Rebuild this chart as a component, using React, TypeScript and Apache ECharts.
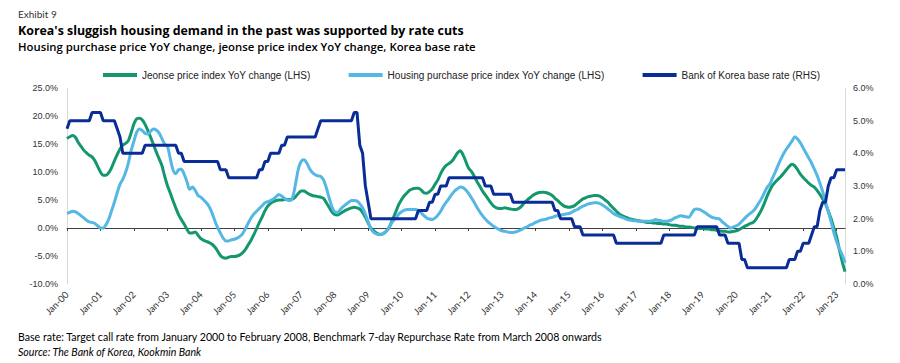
import { useEffect, useRef } from "react";
import * as echarts from "echarts";

// Jeonse price index YoY change (%), monthly Jan-2000 .. Apr-2023 (LHS)
const jeonseYoY: number[] = [
  16.0, 16.3, 16.5, 16.2, 15.3, 14.6, 13.9, 13.4, 13.0, 12.7, 12.0, 11.0, // 2000
  10.0, 9.4, 9.4, 9.9, 10.8, 12.0, 13.1, 14.1, 14.8, 15.1, 15.6, 17.0, // 2001
  18.6, 19.5, 19.6, 19.3, 18.5, 17.4, 16.2, 14.9, 13.6, 12.4, 11.2, 9.3, // 2002
  7.6, 6.3, 4.9, 3.6, 2.4, 1.5, 0.7, -0.2, -0.9, -0.9, -0.7, -1.3, // 2003
  -1.9, -2.2, -2.4, -2.6, -2.9, -3.4, -4.1, -4.9, -5.3, -5.4, -5.2, -5.1, // 2004
  -5.1, -5.0, -4.8, -4.4, -3.8, -3.0, -2.2, -1.2, -0.1, 1.0, 2.0, 3.1, // 2005
  3.9, 4.4, 4.7, 4.9, 5.0, 5.0, 5.1, 5.1, 5.1, 5.2, 5.6, 6.2, // 2006
  6.6, 6.6, 6.3, 6.0, 5.8, 5.7, 5.6, 5.5, 5.3, 4.5, 3.7, 2.9, // 2007
  2.4, 2.3, 2.6, 2.9, 3.2, 3.4, 3.6, 3.7, 3.6, 3.4, 2.8, 1.9, // 2008
  0.9, 0.0, -0.5, -0.9, -1.1, -1.1, -0.8, -0.3, 0.6, 1.8, 3.0, 4.2, // 2009
  5.1, 5.8, 6.3, 6.8, 7.0, 7.1, 7.1, 6.8, 6.3, 6.2, 6.5, 7.0, // 2010
  7.8, 8.6, 9.7, 10.6, 11.2, 11.5, 11.9, 12.6, 13.4, 13.8, 13.1, 11.9, // 2011
  10.7, 10.1, 9.3, 8.3, 7.5, 6.6, 5.9, 5.2, 4.5, 3.9, 3.6, 3.5, // 2012
  3.5, 3.6, 3.5, 3.4, 3.3, 3.3, 3.5, 3.9, 4.5, 5.0, 5.4, 5.8, // 2013
  6.1, 6.3, 6.4, 6.4, 6.3, 6.1, 5.8, 5.3, 4.9, 4.4, 4.0, 3.8, // 2014
  3.7, 3.8, 4.0, 4.4, 4.8, 5.2, 5.4, 5.6, 5.7, 5.8, 5.8, 5.7, // 2015
  5.4, 5.0, 4.6, 4.0, 3.5, 3.0, 2.5, 2.2, 2.0, 1.8, 1.6, 1.5, // 2016
  1.4, 1.3, 1.2, 1.1, 1.0, 1.0, 0.9, 0.9, 0.8, 0.8, 0.7, 0.7, // 2017
  0.6, 0.5, 0.5, 0.4, 0.3, 0.3, 0.2, 0.2, 0.1, 0.0, 0.0, -0.1, // 2018
  -0.1, -0.2, -0.2, -0.3, -0.3, -0.4, -0.5, -0.6, -0.6, -0.7, -0.7, -0.6, // 2019
  -0.5, -0.3, 0.0, 0.3, 0.5, 0.8, 1.0, 1.5, 2.3, 3.2, 4.3, 5.6, // 2020
  6.7, 7.6, 8.2, 8.7, 9.2, 9.8, 10.4, 11.0, 11.4, 11.1, 10.4, 9.6, // 2021
  9.0, 8.5, 8.0, 7.6, 7.3, 6.7, 6.0, 5.2, 4.3, 3.0, 1.7, 0.0, // 2022
  -1.6, -3.9, -6.0, -7.8, // 2023
];

// Housing purchase price index YoY change (%), monthly (LHS)
const housingYoY: number[] = [
  2.6, 2.8, 3.0, 2.9, 2.6, 2.2, 1.8, 1.4, 1.1, 1.0, 0.8, 0.4, // 2000
  0.0, 0.0, 0.6, 1.6, 3.1, 4.6, 6.3, 7.8, 8.7, 9.9, 11.6, 13.8, // 2001
  15.5, 17.1, 17.7, 17.4, 16.9, 16.8, 17.3, 17.7, 17.5, 17.0, 16.0, 15.0, // 2002
  14.6, 12.5, 10.4, 9.7, 10.4, 10.5, 9.6, 8.3, 6.9, 7.3, 6.7, 5.8, // 2003
  5.5, 5.0, 4.5, 3.8, 2.7, 1.3, 0.1, -0.9, -1.8, -2.3, -2.3, -2.1, // 2004
  -2.0, -1.8, -1.5, -1.0, -0.1, 0.9, 1.8, 2.5, 3.0, 3.5, 4.0, 4.5, // 2005
  4.7, 4.9, 5.2, 5.6, 6.0, 5.7, 5.3, 5.0, 4.9, 5.6, 8.0, 10.6, // 2006
  11.9, 12.2, 11.6, 10.6, 9.9, 9.5, 9.3, 9.2, 8.6, 7.2, 5.4, 3.8, // 2007
  2.9, 2.8, 3.3, 3.8, 4.2, 4.6, 4.9, 4.9, 4.8, 4.3, 3.6, 2.5, // 2008
  1.1, -0.2, -0.8, -1.1, -1.2, -1.1, -0.8, -0.3, 0.5, 1.3, 1.8, 2.5, // 2009
  2.9, 3.2, 3.3, 3.3, 3.3, 3.3, 3.1, 2.7, 2.2, 1.8, 1.6, 1.5, // 2010
  1.8, 2.3, 3.0, 3.9, 4.6, 5.3, 6.0, 6.6, 7.0, 7.3, 7.2, 6.8, // 2011
  6.2, 5.4, 4.6, 3.7, 2.9, 2.2, 1.6, 1.1, 0.7, 0.3, 0.0, -0.3, // 2012
  -0.5, -0.6, -0.7, -0.8, -0.8, -0.7, -0.5, -0.3, 0.0, 0.2, 0.5, 0.7, // 2013
  1.0, 1.2, 1.4, 1.5, 1.6, 1.8, 1.9, 2.1, 2.2, 2.3, 2.4, 2.5, // 2014
  2.6, 2.8, 3.1, 3.3, 3.6, 3.9, 4.1, 4.3, 4.4, 4.5, 4.5, 4.4, // 2015
  4.1, 3.8, 3.4, 3.0, 2.6, 2.3, 2.1, 1.9, 1.7, 1.5, 1.4, 1.3, // 2016
  1.3, 1.2, 1.2, 1.2, 1.2, 1.2, 1.3, 1.5, 1.4, 1.3, 1.2, 1.2, // 2017
  1.3, 1.5, 1.8, 2.0, 2.2, 2.1, 2.0, 1.9, 2.6, 3.3, 3.4, 3.3, // 2018
  3.0, 2.7, 2.3, 2.0, 1.8, 1.7, 1.6, 1.1, 0.7, 0.3, 0.0, 0.2, // 2019
  0.4, 0.7, 1.2, 1.7, 2.2, 2.6, 3.0, 3.6, 4.4, 5.2, 6.2, 7.2, // 2020
  7.8, 8.9, 10.0, 11.2, 12.3, 13.3, 14.1, 14.8, 15.5, 16.3, 15.9, 15.2, // 2021
  14.3, 13.4, 12.5, 11.6, 10.5, 9.4, 8.0, 6.5, 4.7, 3.0, 1.1, -0.8, // 2022
  -2.4, -3.7, -4.8, -6.2, // 2023
];

// Bank of Korea base rate (%), monthly (RHS)
const baseRate: number[] = [
  4.75, 5.0, 5.0, 5.0, 5.0, 5.0, 5.0, 5.0, 5.0, 5.25, 5.25, 5.25, // 2000
  5.25, 5.0, 5.0, 5.0, 5.0, 5.0, 4.75, 4.5, 4.0, 4.0, 4.0, 4.0, // 2001
  4.0, 4.0, 4.0, 4.0, 4.25, 4.25, 4.25, 4.25, 4.25, 4.25, 4.25, 4.25, // 2002
  4.25, 4.25, 4.25, 4.25, 4.0, 4.0, 3.75, 3.75, 3.75, 3.75, 3.75, 3.75, // 2003
  3.75, 3.75, 3.75, 3.75, 3.75, 3.75, 3.75, 3.5, 3.5, 3.5, 3.25, 3.25, // 2004
  3.25, 3.25, 3.25, 3.25, 3.25, 3.25, 3.25, 3.25, 3.25, 3.5, 3.5, 3.75, // 2005
  3.75, 4.0, 4.0, 4.0, 4.0, 4.25, 4.25, 4.5, 4.5, 4.5, 4.5, 4.5, // 2006
  4.5, 4.5, 4.5, 4.5, 4.5, 4.5, 4.75, 5.0, 5.0, 5.0, 5.0, 5.0, // 2007
  5.0, 5.0, 5.0, 5.0, 5.0, 5.0, 5.0, 5.25, 5.25, 4.25, 4.0, 3.0, // 2008
  2.5, 2.0, 2.0, 2.0, 2.0, 2.0, 2.0, 2.0, 2.0, 2.0, 2.0, 2.0, // 2009
  2.0, 2.0, 2.0, 2.0, 2.0, 2.0, 2.25, 2.25, 2.25, 2.25, 2.5, 2.5, // 2010
  2.75, 2.75, 3.0, 3.0, 3.0, 3.25, 3.25, 3.25, 3.25, 3.25, 3.25, 3.25, // 2011
  3.25, 3.25, 3.25, 3.25, 3.25, 3.25, 3.0, 3.0, 3.0, 2.75, 2.75, 2.75, // 2012
  2.75, 2.75, 2.75, 2.75, 2.5, 2.5, 2.5, 2.5, 2.5, 2.5, 2.5, 2.5, // 2013
  2.5, 2.5, 2.5, 2.5, 2.5, 2.5, 2.5, 2.25, 2.25, 2.0, 2.0, 2.0, // 2014
  2.0, 2.0, 1.75, 1.75, 1.75, 1.5, 1.5, 1.5, 1.5, 1.5, 1.5, 1.5, // 2015
  1.5, 1.5, 1.5, 1.5, 1.5, 1.25, 1.25, 1.25, 1.25, 1.25, 1.25, 1.25, // 2016
  1.25, 1.25, 1.25, 1.25, 1.25, 1.25, 1.25, 1.25, 1.25, 1.25, 1.5, 1.5, // 2017
  1.5, 1.5, 1.5, 1.5, 1.5, 1.5, 1.5, 1.5, 1.5, 1.5, 1.75, 1.75, // 2018
  1.75, 1.75, 1.75, 1.75, 1.75, 1.75, 1.5, 1.5, 1.5, 1.25, 1.25, 1.25, // 2019
  1.25, 1.25, 0.75, 0.75, 0.5, 0.5, 0.5, 0.5, 0.5, 0.5, 0.5, 0.5, // 2020
  0.5, 0.5, 0.5, 0.5, 0.5, 0.5, 0.5, 0.75, 0.75, 0.75, 1.0, 1.0, // 2021
  1.25, 1.25, 1.25, 1.5, 1.75, 1.75, 2.25, 2.5, 2.5, 3.0, 3.25, 3.25, // 2022
  3.5, 3.5, 3.5, 3.5, // 2023
];

const monthNames = ["Jan", "Feb", "Mar", "Apr", "May", "Jun", "Jul", "Aug", "Sep", "Oct", "Nov", "Dec"];
const startYear = 2000;
const categories: string[] = jeonseYoY.map(
  (_, i) => `${monthNames[i % 12]}-${String((startYear + Math.floor(i / 12)) % 100).padStart(2, "0")}`
);

const seriesNames = [
  "Jeonse price index YoY change (LHS)",
  "Housing purchase price index YoY change (LHS)",
  "Bank of Korea base rate (RHS)",
];
const seriesColors = ["#14976f", "#55b7e4", "#0a2c97"];

const exhibitText = "Exhibit 9";
const titleText = "Korea's sluggish housing demand in the past was supported by rate cuts";
const subtitleText = "Housing purchase price YoY change, jeonse price index YoY change, Korea base rate";
const noteText =
  "Base rate: Target call rate from January 2000 to February 2008, Benchmark 7-day Repurchase Rate from March 2008 onwards";
const sourceText = "Source: The Bank of Korea, Kookmin Bank";

const HUMANIST = "Lato, 'Open Sans', sans-serif";
const OPEN = "'Open Sans', Lato, sans-serif";
const ARIAL = "'Liberation Sans', Arial, sans-serif";

export default function App() {
  const ref = useRef<HTMLDivElement>(null);

  useEffect(() => {
    if (!ref.current) return;
    const chart = echarts.init(ref.current, undefined, { renderer: "svg" });
    const pct = (v: number) => `${v.toFixed(1)}%`;
    chart.setOption({
      animation: false,
      backgroundColor: "#ffffff",
      graphic: [
        {
          type: "text",
          left: 18,
          top: 9,
          style: { text: exhibitText, fontFamily: HUMANIST, fontSize: 10, fill: "#333" },
        },
        {
          type: "text",
          left: 18,
          top: 24,
          style: { text: titleText, fontFamily: OPEN, fontSize: 12.4, fontWeight: "bold", fill: "#000" },
        },
        {
          type: "text",
          left: 18,
          top: 41,
          style: { text: subtitleText, fontFamily: OPEN, fontSize: 11.35, fontWeight: 600, fill: "#000" },
        },
        {
          type: "text",
          left: 18,
          top: 331,
          style: { text: noteText, fontFamily: HUMANIST, fontSize: 10.6, fill: "#000" },
        },
        {
          type: "text",
          left: 18,
          top: 346,
          style: { text: sourceText, fontFamily: HUMANIST, fontSize: 10.6, fontStyle: "italic", fill: "#000" },
        },
      ],
      legend: {
        left: 98,
        top: 65,
        itemWidth: 34,
        itemHeight: 4,
        itemGap: 38,
        icon: "rect",
        data: seriesNames,
        textStyle: { fontFamily: ARIAL, fontSize: 10, color: "#222" },
      },
      grid: { left: 67, right: 55, top: 88, bottom: 79, containLabel: false },
      xAxis: [
        {
          type: "category",
          data: categories,
          boundaryGap: false,
          position: "bottom",
          axisLine: { show: false, onZero: false },
          axisTick: { show: false },
          axisLabel: {
            interval: 11,
            rotate: 45,
            margin: 9,
            fontFamily: HUMANIST,
            fontSize: 9.5,
            color: "#333",
          },
          splitLine: { show: false },
        },
        {
          type: "category",
          data: categories,
          boundaryGap: false,
          position: "bottom",
          axisLine: { show: true, onZero: true, onZeroAxisIndex: 0, lineStyle: { color: "#404040", width: 1 } },
          axisTick: { show: true, interval: 11, length: 3, lineStyle: { color: "#404040" } },
          axisLabel: { show: false },
          splitLine: { show: false },
        },
      ],
      yAxis: [
        {
          type: "value",
          min: -10,
          max: 25,
          interval: 5,
          position: "left",
          axisLine: { show: true, onZero: false, lineStyle: { color: "#d9d9d9", width: 1 } },
          axisTick: { show: false },
          splitLine: { show: false },
          axisLabel: { formatter: pct, fontFamily: ARIAL, fontSize: 9, color: "#333", margin: 9 },
        },
        {
          type: "value",
          min: 0,
          max: 6,
          interval: 1,
          position: "right",
          axisLine: { show: true, onZero: false, lineStyle: { color: "#d9d9d9", width: 1 } },
          axisTick: { show: false },
          splitLine: { show: false },
          axisLabel: { formatter: pct, fontFamily: ARIAL, fontSize: 9, color: "#333", margin: 8 },
        },
      ],
      series: [
        {
          name: seriesNames[0],
          type: "line",
          xAxisIndex: 0,
          yAxisIndex: 0,
          data: jeonseYoY,
          showSymbol: false,
          smooth: 0.3,
          color: seriesColors[0],
          lineStyle: { width: 3, color: seriesColors[0] },
        },
        {
          name: seriesNames[1],
          type: "line",
          xAxisIndex: 0,
          yAxisIndex: 0,
          data: housingYoY,
          showSymbol: false,
          smooth: 0.3,
          color: seriesColors[1],
          lineStyle: { width: 3, color: seriesColors[1] },
        },
        {
          name: seriesNames[2],
          type: "line",
          xAxisIndex: 0,
          yAxisIndex: 1,
          data: baseRate,
          showSymbol: false,
          color: seriesColors[2],
          lineStyle: { width: 3, color: seriesColors[2] },
        },
      ],
    });
    return () => chart.dispose();
  }, []);

  return (
    <div
      ref={ref}
      style={{ position: "absolute", left: 0, top: 0, width: 900, height: 363, background: "#fff" }}
    />
  );
}
